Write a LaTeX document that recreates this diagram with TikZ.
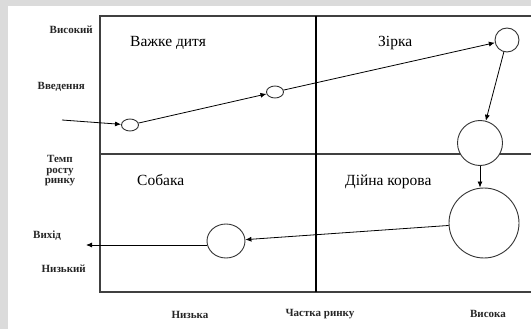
\documentclass[tikz,border=0pt]{standalone}
\usepackage{fontspec}
\setmainfont{Liberation Serif}
\usetikzlibrary{arrows.meta,shapes.geometric}
\begin{document}
\begin{tikzpicture}[x=1pt,y=-1pt,
  frame/.style={line width=1.3pt,draw=black!75},
  ell/.style={ellipse,draw=black!80,line width=0.9pt,inner sep=0pt,fill=white},
  circ/.style={circle,draw=black!80,line width=0.9pt,inner sep=0pt,fill=white},
  arr/.style={line width=0.8pt,-{Latex[length=6pt,width=5pt]}},
  axl/.style={font=\rmfamily\bfseries\fontsize{11}{11.5}\selectfont,inner sep=0pt,text=black!85},
  qlab/.style={font=\rmfamily\fontsize{15.5}{17}\selectfont,inner sep=0pt,anchor=west}]
\useasboundingbox (0,0) rectangle (531,329);
\fill[black!14] (0,0) rectangle (531,329);
\fill[white] (8,6) rectangle (531,329);
% frame
\draw[frame] (531,16) -- (100,16) -- (100,292) -- (531,292);
\draw[frame] (100,154) -- (531,154);
\draw[line width=1.1pt] (316,16) -- (316,292);
% quadrant labels
\node[qlab] (q1) at (130,43) {Важке дитя};
\node[qlab] (q2) at (378,43) {Зірка};
\node[qlab] (q3) at (137,180) {Собака};
\node[qlab] (q4) at (345,182) {Дійна корова};
% axis labels
\node[axl,anchor=east] (hi) at (93,30) {Високий};
\node[axl,anchor=east] (intro) at (85,87) {Введення};
\node[axl,align=center] (rate) at (60,171) {Темп\\[-1pt]росту\\[-1pt]ринку};
\node[axl,anchor=west] (exitl) at (33,236) {Вихід};
\node[axl,anchor=east] (lo) at (86,269) {Низький};
\node[axl] (low) at (190,315) {Низька};
\node[axl] (share) at (320,314) {Частка ринку};
\node[axl] (high) at (488,314) {Висока};
% circles
\node[ell,minimum width=17,minimum height=12] (c1) at (130,125) {};
\node[ell,minimum width=17,minimum height=12] (c2) at (275,92) {};
\node[circ,minimum size=24] (c3) at (507,40) {};
\node[circ,minimum size=45] (c4) at (480,143) {};
\node[circ,minimum size=70] (c5) at (484,223) {};
\node[ell,minimum width=38,minimum height=34] (c6) at (226,241) {};
% connectors
\coordinate (in) at (62,120);
\coordinate (out) at (86,245);
\draw[arr] (in) -- (c1);
\draw[arr] (c1) -- (c2);
\draw[arr] (c2) -- (c3);
\draw[arr] (c3) -- (c4);
\draw[arr] (c4.south) -- (c4.south |- c5.north);
\draw[arr] (c5) -- (c6);
\draw[arr] (c6.west |- out) -- (out);
\end{tikzpicture}
\end{document}
